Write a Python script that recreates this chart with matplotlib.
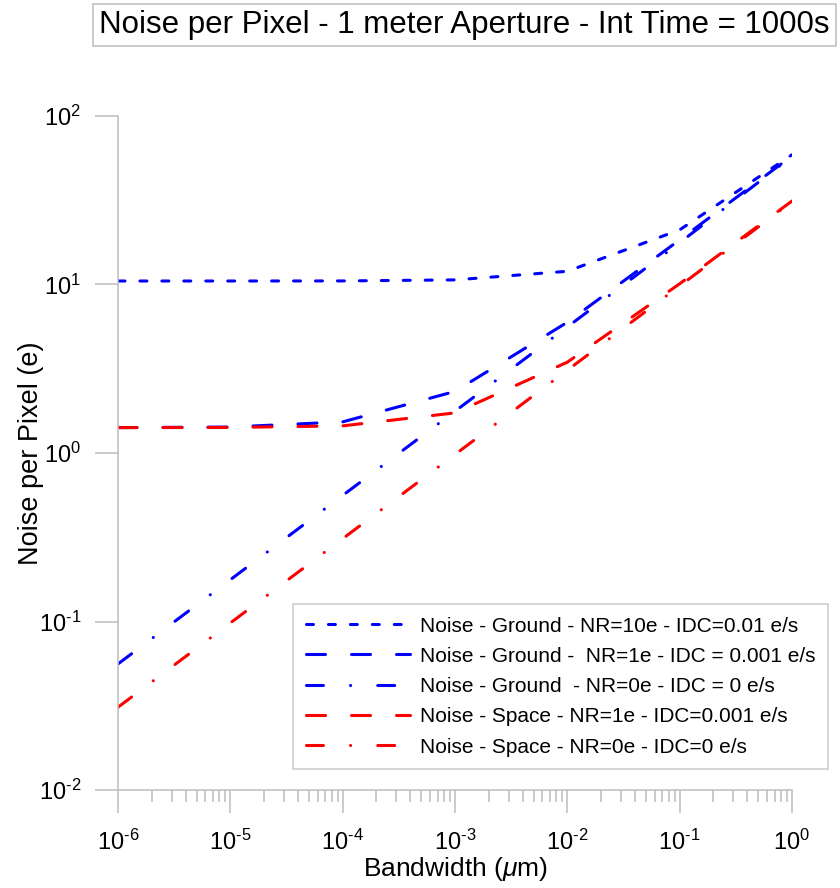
import matplotlib
matplotlib.use("Agg")
import matplotlib.pyplot as plt
import matplotlib.ticker as mticker
import math

plt.rcParams['font.family'] = ['Liberation Sans', 'DejaVu Sans']
plt.rcParams['mathtext.fontset'] = 'custom'
plt.rcParams['mathtext.rm'] = 'Liberation Sans'
plt.rcParams['mathtext.it'] = 'Liberation Sans:italic'
plt.rcParams['axes.unicode_minus'] = False
plt.rcParams['lines.scale_dashes'] = False

bandwidth = [1e-6, 1e-5, 1e-4, 1e-3, 1e-2, 1e-1, 1e0]
ground_nr10 = [10.49, 10.49, 10.5, 10.65, 11.98, 21.1, 58.9]
ground_nr1 = [1.415, 1.426, 1.53, 2.32, 5.97, 18.4, 58.0]
ground_nr0 = [0.056, 0.177, 0.56, 1.77, 5.6, 17.7, 57.5]
space_nr1 = [1.414, 1.418, 1.449, 1.73, 3.46, 10.1, 31.3]
space_nr0 = [0.031, 0.098, 0.31, 0.98, 3.1, 9.8, 31.0]

x_ticks = [1e-6, 1e-5, 1e-4, 1e-3, 1e-2, 1e-1, 1e0]
y_ticks = [1e-2, 1e-1, 1e0, 1e1, 1e2]

labels = [
    "Noise - Ground - NR=10e - IDC=0.01 e/s",
    "Noise - Ground -  NR=1e - IDC = 0.001 e/s",
    "Noise - Ground  - NR=0e - IDC = 0 e/s",
    "Noise - Space - NR=1e - IDC=0.001 e/s",
    "Noise - Space - NR=0e - IDC=0 e/s",
]

short_dash = (0, (5.0, 10.8))
long_dash = (0, (13.7, 18.7))
dash_dot = (0, (12.2, 19.5, 0.1, 19.5))

series = [
    (ground_nr10, 'blue', short_dash),
    (ground_nr1, 'blue', long_dash),
    (ground_nr0, 'blue', dash_dot),
    (space_nr1, 'red', long_dash),
    (space_nr0, 'red', dash_dot),
]

fig = plt.figure(figsize=(8.4, 8.88), dpi=100)
ax = fig.add_axes([118/840, 1-790/888, (792-118)/840, (790-116)/888])

handles = []
for (vals, col, ls), lab in zip(series, labels):
    ln, = ax.plot(bandwidth, vals, color=col, lw=2.2, linestyle=ls,
                  dash_capstyle='round', solid_capstyle='round', label=lab)
    handles.append(ln)

ax.set_xscale('log')
ax.set_yscale('log')
ax.set_xlim(1e-6, 1e0)
ax.set_ylim(1e-2, 1e2)

grey = '#bdbdbd'
for s in ['top', 'right']:
    ax.spines[s].set_visible(False)
for s in ['left', 'bottom']:
    ax.spines[s].set_color(grey)
    ax.spines[s].set_linewidth(1.1)


def pow_fmt(v, pos):
    e = int(round(math.log10(v)))
    es = str(e).replace('-', '\u2010')
    return r"$\mathregular{10^{" + es + "}}$"


ax.xaxis.set_major_locator(mticker.FixedLocator(x_ticks))
ax.xaxis.set_major_formatter(mticker.FuncFormatter(pow_fmt))
ax.xaxis.set_minor_locator(mticker.LogLocator(base=10, subs=range(2, 10), numticks=10))
ax.xaxis.set_minor_formatter(mticker.NullFormatter())
ax.yaxis.set_major_locator(mticker.FixedLocator(y_ticks))
ax.yaxis.set_major_formatter(mticker.FuncFormatter(pow_fmt))
ax.yaxis.set_minor_locator(mticker.NullLocator())
ax.yaxis.set_minor_formatter(mticker.NullFormatter())

ax.tick_params(axis='both', which='major', direction='out', length=16.5, width=1.1,
               color=grey, labelsize=17)
ax.tick_params(axis='x', which='major', pad=12)
ax.tick_params(axis='y', which='major', pad=10)
ax.tick_params(axis='x', which='minor', direction='out', length=8.5, width=1.1, color=grey)

ax.set_xlabel(r"Bandwidth ($\mu$m)", fontsize=19, labelpad=0)
ax.set_ylabel("Noise per Pixel (e)", fontsize=19.5, labelpad=-4)

leg = fig.legend(handles=handles, loc='upper left',
                 bbox_to_anchor=(293/840, 1-604/888), fontsize=15,
                 frameon=True, fancybox=False, handlelength=5.0,
                 handletextpad=0.5, labelspacing=0.54, borderpad=0.6,
                 borderaxespad=0)
leg.get_frame().set_edgecolor(grey)
leg.get_frame().set_linewidth(1.1)

fig.text(464/840, 1-25/888, "Noise per Pixel - 1 meter Aperture - Int Time = 1000s",
         ha='center', va='center', fontsize=22.5,
         bbox=dict(boxstyle='square,pad=0.2', facecolor='white', edgecolor=grey, linewidth=1.1))

fig.savefig("out.png", dpi=100)
